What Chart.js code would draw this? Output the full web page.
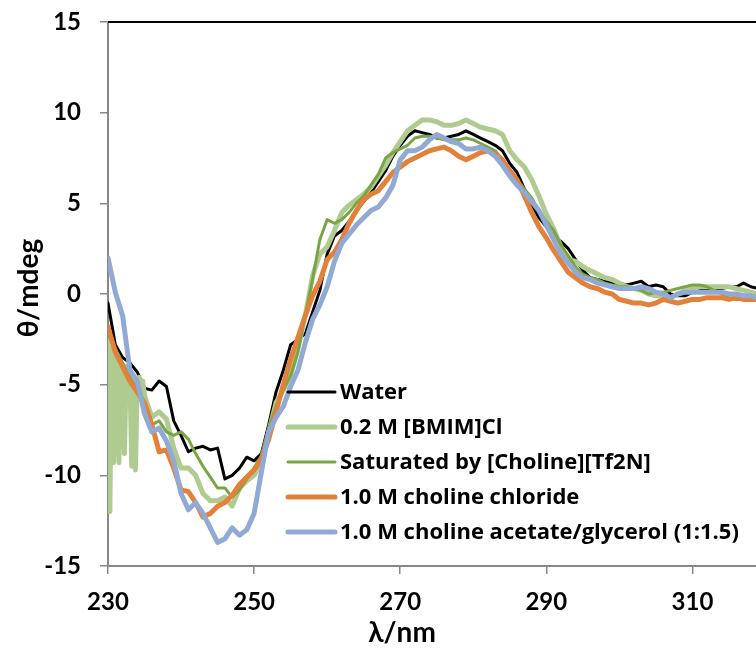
<!DOCTYPE html>
<html>
<head>
<meta charset="utf-8">
<script src="https://cdn.jsdelivr.net/npm/chart.js@4.4.1/dist/chart.umd.min.js"></script>
<style>
  html, body { margin: 0; padding: 0; background: #ffffff; }
  #wrap { width: 756px; height: 663px; position: relative; }
</style>
</head>
<body>
<div id="wrap"><canvas id="c" width="756" height="663"></canvas></div>
<script>
// ---- data ----
const seriesNames = [
  "Water",
  "0.2 M [BMIM]Cl",
  "Saturated by [Choline][Tf2N]",
  "1.0 M choline chloride",
  "1.0 M choline acetate/glycerol (1:1.5)"
];
const xTicks = [230, 250, 270, 290, 310];
const yTicks = [-15, -10, -5, 0, 5, 10, 15];

// wavelengths 230..319 nm
const wavelengths = [];
for (let w = 230; w <= 319; w++) wavelengths.push(w);

const water = [
  -0.5, -2.8, -3.5, -3.8, -4.3, -5.2, -5.3, -4.8, -5.1, -7.0,
  -7.8, -8.7, -8.5, -8.4, -8.6, -8.5, -10.2, -10.0, -9.6, -9.0,
  -9.2, -8.8, -7.2, -5.4, -4.2, -2.8, -2.5, -2.2, -1.0, 0.2,
  2.2, 3.2, 3.5, 4.0, 4.6, 5.1, 5.6, 6.2, 6.8, 7.6,
  8.2, 8.7, 9.0, 8.9, 8.8, 8.6, 8.6, 8.7, 8.8, 9.0,
  8.8, 8.6, 8.4, 8.2, 7.9, 7.2, 6.7, 5.8, 4.9, 4.2,
  3.7, 3.2, 2.9, 2.5, 1.9, 1.3, 0.9, 0.8, 0.7, 0.6,
  0.6, 0.5, 0.6, 0.7, 0.4, 0.5, 0.4, 0.0, -0.1, -0.1,
  0.1, 0.2, 0.3, 0.3, 0.3, 0.4, 0.4, 0.6, 0.4, 0.3
];

// [BMIM]Cl: noisy spiky start (230–234.75 nm, 0.25 nm steps), then 235..319 nm
const bmimStartX = [
  230.0, 230.25, 230.5, 230.75, 231.0, 231.25, 231.5, 231.75, 232.0, 232.25,
  232.5, 232.75, 233.0, 233.25, 233.5, 233.75, 234.0, 234.25, 234.5, 234.75
];
const bmimStartY = [
  -2.5, -12.0, -3.0, -9.3, -3.5, -6.0, -9.3, -3.8, -4.5, -8.8,
  -4.0, -5.0, -4.5, -9.5, -5.0, -9.7, -5.0, -4.6, -5.2, -4.8
];
const bmim = [
  -5.6, -6.8, -6.5, -6.9, -8.5, -9.6, -9.6, -10.0, -11.0, -11.4,
  -11.4, -11.2, -11.7, -10.7, -10.3, -10.0, -9.2, -7.6, -6.0, -5.3,
  -4.5, -3.0, -1.2, 1.0, 2.2, 2.6, 3.5, 4.5, 4.9, 5.2,
  5.5, 5.9, 6.5, 7.1, 7.8, 8.4, 9.0, 9.3, 9.6, 9.6,
  9.5, 9.3, 9.3, 9.4, 9.6, 9.4, 9.2, 9.1, 9.0, 8.8,
  7.9, 7.4, 7.0, 6.3, 5.4, 4.4, 3.6, 2.6, 1.9, 1.8,
  1.5, 1.3, 1.1, 0.9, 0.8, 0.6, 0.4, 0.3, 0.2, 0.0,
  -0.1, -0.1, -0.2, 0.0, 0.2, 0.3, 0.4, 0.4, 0.4, 0.4,
  0.4, 0.3, 0.2, 0.1, 0.0
];

const saturated = [
  -2.2, -3.0, -3.8, -4.6, -5.2, -6.0, -7.2, -7.0, -7.6, -7.8,
  -7.6, -8.0, -8.8, -9.5, -10.1, -10.7, -10.7, -11.2, -10.8, -10.2,
  -9.6, -8.9, -7.4, -6.2, -5.3, -4.5, -3.2, -1.2, 0.8, 3.0,
  4.1, 3.9, 4.1, 4.5, 5.0, 5.4, 6.0, 6.6, 7.5, 7.8,
  8.0, 8.2, 8.6, 8.7, 8.7, 8.6, 8.5, 8.5, 8.5, 8.6,
  8.5, 8.3, 8.1, 7.9, 7.4, 6.8, 6.3, 5.8, 5.3, 4.6,
  4.0, 3.5, 2.7, 2.1, 1.5, 1.1, 0.9, 0.8, 0.6, 0.5,
  0.4, 0.4, 0.3, 0.2, 0.0, 0.1, 0.1, 0.2, 0.3, 0.4,
  0.5, 0.5, 0.4, 0.2, 0.0, -0.2, -0.3, -0.3, -0.3, -0.3
];

const cholineChloride = [
  -1.8, -3.2, -4.0, -4.8, -5.4, -6.0, -7.2, -8.7, -8.6, -9.6,
  -10.8, -10.9, -11.5, -12.3, -12.1, -11.7, -11.5, -11.1, -10.5, -10.1,
  -9.7, -9.1, -8.0, -6.5, -5.0, -3.6, -2.4, -1.2, -0.1, 0.7,
  1.9, 2.3, 3.0, 3.9, 4.6, 5.2, 5.5, 5.7, 6.2, 6.7,
  7.0, 7.3, 7.5, 7.7, 7.9, 8.0, 8.1, 7.9, 7.6, 7.4,
  7.6, 7.8, 7.9, 7.7, 7.4, 6.8, 6.3, 5.4, 4.5, 3.7,
  3.1, 2.4, 1.8, 1.2, 0.9, 0.6, 0.4, 0.3, 0.1, 0.0,
  -0.3, -0.4, -0.5, -0.5, -0.6, -0.5, -0.3, -0.4, -0.5, -0.4,
  -0.3, -0.3, -0.2, -0.2, -0.2, -0.3, -0.2, -0.3, -0.3, -0.3
];

const cholineAcetate = [
  2.0, 0.1, -1.2, -4.2, -4.8, -6.6, -7.6, -7.4, -8.1, -9.2,
  -11.0, -11.9, -11.5, -12.1, -12.9, -13.7, -13.5, -12.9, -13.3, -13.0,
  -12.1, -9.8, -7.6, -6.8, -6.2, -5.1, -4.2, -2.7, -1.4, -0.6,
  0.4, 1.8, 2.8, 3.3, 3.8, 4.2, 4.6, 4.8, 5.3, 6.0,
  7.4, 7.9, 7.9, 8.1, 8.5, 8.8, 8.6, 8.4, 8.3, 8.0,
  8.0, 8.1, 7.9, 7.6, 7.1, 6.5, 6.0, 5.6, 5.1, 4.6,
  3.8, 3.0, 2.2, 1.7, 1.2, 0.9, 0.8, 0.6, 0.5, 0.4,
  0.3, 0.3, 0.3, 0.4, 0.3, 0.1, 0.0, -0.2, 0.0, 0.1,
  0.1, 0.1, 0.1, 0.1, 0.1, 0.0, 0.0, -0.1, -0.1, -0.2
];

const colors = ["#000000", "#AFCB8F", "#7BA545", "#E3803A", "#90AAD5"];
const widths = [3, 5, 3, 5, 5];

// ---- build datasets ----
const pts = (xs, ys) => xs.map((x, i) => ({ x: x, y: ys[i] }));
const bmimX = bmimStartX.concat(wavelengths.filter(w => w >= 235));
const bmimY = bmimStartY.concat(bmim);
const seriesData = [
  pts(wavelengths, water),
  pts(bmimX, bmimY),
  pts(wavelengths, saturated),
  pts(wavelengths, cholineChloride),
  pts(wavelengths, cholineAcetate)
];

const FONT = "Lato, 'Open Sans', sans-serif";
const LEGEND_FONT = "'Open Sans', Lato, sans-serif";

const datasets = seriesNames.map((name, i) => ({
  label: name,
  data: seriesData[i],
  borderColor: colors[i],
  backgroundColor: colors[i],
  borderWidth: widths[i],
  pointRadius: 0,
  tension: 0,
  fill: false,
  borderJoinStyle: 'round',
  borderCapStyle: 'round',
  order: seriesNames.length - i
}));

const decor = {
  id: 'decor',
  afterDraw(chart) {
    const ctx = chart.ctx;
    const a = chart.chartArea;
    ctx.save();
    // top frame line
    ctx.strokeStyle = '#000000';
    ctx.lineWidth = 2;
    ctx.beginPath();
    ctx.moveTo(a.left, a.top);
    ctx.lineTo(a.right, a.top);
    ctx.stroke();
    // legend inside plot
    const lx0 = 288, lx1 = 335, tx = 340, y0 = 392, dy = 35;
    ctx.font = "bold 22px " + LEGEND_FONT;
    ctx.textBaseline = 'middle';
    ctx.textAlign = 'left';
    seriesNames.forEach((name, i) => {
      const y = y0 + i * dy;
      ctx.strokeStyle = colors[i];
      ctx.lineWidth = widths[i];
      ctx.lineCap = 'round';
      ctx.beginPath();
      ctx.moveTo(lx0, y);
      ctx.lineTo(lx1, y);
      ctx.stroke();
      ctx.fillStyle = '#000000';
      ctx.fillText(name, tx, y + 1);
    });
    // axis titles
    ctx.font = "bold 28px " + FONT;
    ctx.fillStyle = '#000000';
    ctx.textAlign = 'center';
    ctx.textBaseline = 'middle';
    ctx.fillText('λ/nm', 402, 633);
    ctx.save();
    ctx.translate(29, 288);
    ctx.rotate(-Math.PI / 2);
    ctx.fillText('θ/mdeg', 0, 0);
    ctx.restore();
    ctx.restore();
  }
};

new Chart(document.getElementById('c'), {
  type: 'line',
  data: { datasets: datasets },
  options: {
    responsive: false,
    animation: false,
    parsing: true,
    layout: { padding: { top: 22, right: 0, left: 0, bottom: 0 } },
    plugins: { legend: { display: false }, tooltip: { enabled: false }, title: { display: false } },
    scales: {
      x: {
        type: 'linear',
        min: 230,
        max: 318.7,
        afterBuildTicks: s => { s.ticks = xTicks.map(v => ({ value: v })); },
        afterFit: s => { s.height = 97; s.paddingLeft = 0; s.paddingRight = 0; },
        grid: { display: true, drawOnChartArea: false, drawTicks: true, tickLength: 8, color: '#888888', lineWidth: 1.5 },
        border: { display: true, color: '#888888', width: 2 },
        ticks: { color: '#000000', font: { family: FONT, size: 24, weight: 'bold' }, padding: 14, maxRotation: 0, autoSkip: false }
      },
      y: {
        type: 'linear',
        min: -15,
        max: 15,
        afterBuildTicks: s => { s.ticks = yTicks.map(v => ({ value: v })); },
        afterFit: s => { s.width = 108; s.paddingTop = 0; s.paddingBottom = 0; },
        grid: { display: true, drawOnChartArea: false, drawTicks: true, tickLength: 8, color: '#888888', lineWidth: 1.5 },
        border: { display: true, color: '#888888', width: 2 },
        ticks: { color: '#000000', font: { family: FONT, size: 24, weight: 'bold' }, padding: 19 }
      }
    }
  },
  plugins: [decor]
});
</script>
</body>
</html>
